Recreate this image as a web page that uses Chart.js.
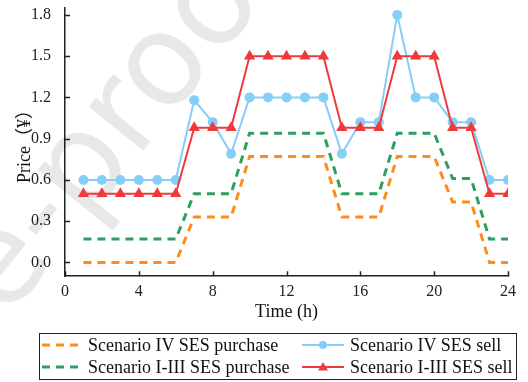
<!DOCTYPE html>
<html>
<head>
<meta charset="utf-8">
<script src="https://cdn.jsdelivr.net/npm/chart.js@4"></script>
<style>
	html, body { margin: 0; padding: 0; background: #fff; }
	#wrap { position: relative; width: 528px; height: 382px; }
	#legend {
		position: absolute; left: 39px; top: 333px; width: 478px; height: 47px;
		border: 1px solid #222; box-sizing: border-box;
		font-family: "Liberation Serif", serif; font-size: 18px; color: #111;
	}
	.item { position: absolute; display: flex; align-items: center; height: 22px; white-space: nowrap; }
	.item svg { margin-right: 6px; }
</style>
</head>
<body>
<div id="wrap">
	<canvas id="chart" width="528" height="382"></canvas>
	<div id="legend"></div>
</div>
<script>
	'use strict';

	// Hours and price series
	const hours = [1, 2, 3, 4, 5, 6, 7, 8, 9, 10, 11, 12, 13, 14, 15, 16, 17, 18, 19, 20, 21, 22, 23, 24];
	const purchaseIV = [0, 0, 0, 0, 0, 0, 0.33, 0.33, 0.33, 0.77, 0.77, 0.77, 0.77, 0.77, 0.33, 0.33, 0.33, 0.77, 0.77, 0.77, 0.44, 0.44, 0, 0];
	const sellIV = [0.6, 0.6, 0.6, 0.6, 0.6, 0.6, 1.18, 1.02, 0.79, 1.2, 1.2, 1.2, 1.2, 1.2, 0.79, 1.02, 1.02, 1.8, 1.2, 1.2, 1.02, 1.02, 0.6, 0.6];
	const purchaseI3 = [0.17, 0.17, 0.17, 0.17, 0.17, 0.17, 0.5, 0.5, 0.5, 0.94, 0.94, 0.94, 0.94, 0.94, 0.5, 0.5, 0.5, 0.94, 0.94, 0.94, 0.61, 0.61, 0.17, 0.17];
	const sellI3 = [0.5, 0.5, 0.5, 0.5, 0.5, 0.5, 0.98, 0.98, 0.98, 1.5, 1.5, 1.5, 1.5, 1.5, 0.98, 0.98, 0.98, 1.5, 1.5, 1.5, 0.98, 0.98, 0.5, 0.5];
	const yTicks = [0, 0.3, 0.6, 0.9, 1.2, 1.5, 1.8];
	const xTicks = [0, 4, 8, 12, 16, 20, 24];

	const labels = ['Scenario IV SES purchase', 'Scenario IV SES sell', 'Scenario I-III SES purchase', 'Scenario I-III SES sell'];
	const colors = { orange: '#ff8c1a', blue: '#86cdf7', green: '#2e9f5c', red: '#ee3a3d' };

	const serif = '"Liberation Serif", "Noto Sans CJK SC", serif';

	function toXY(ys) {
		return hours.map((h, i) => ({ x: h, y: ys[i] }));
	}

	// Faint proof watermark behind the data
	const watermark = {
		id: 'watermark',
		beforeDatasetsDraw(chart) {
			const ctx = chart.ctx;
			ctx.save();
			ctx.translate(6, 320);
			ctx.rotate(-51 * Math.PI / 180);
			ctx.font = '128px "DejaVu Sans", sans-serif';
			ctx.fillStyle = 'rgba(0,0,0,0.09)';
			ctx.fillText('e-proof', 0, 0);
			ctx.restore();
		}
	};

	// Inward tick marks on the left and bottom axes
	const innerTicks = {
		id: 'innerTicks',
		afterDraw(chart) {
			const ctx = chart.ctx;
			const { x, y } = chart.scales;
			const area = chart.chartArea;
			ctx.save();
			ctx.strokeStyle = '#222';
			ctx.lineWidth = 1.5;
			ctx.beginPath();
			yTicks.forEach(v => {
				const py = Math.round(y.getPixelForValue(v)) + 0.5;
				ctx.moveTo(area.left, py);
				ctx.lineTo(area.left + 5, py);
			});
			xTicks.forEach(v => {
				const px = Math.round(x.getPixelForValue(v)) + 0.5;
				ctx.moveTo(px, area.bottom);
				ctx.lineTo(px, area.bottom - 5);
			});
			ctx.stroke();
			ctx.restore();
		}
	};

	new Chart(document.getElementById('chart'), {
		type: 'line',
		data: {
			datasets: [
				{
					label: labels[3],
					data: toXY(sellI3),
					borderColor: colors.red,
					backgroundColor: colors.red,
					borderWidth: 2,
					pointStyle: 'triangle',
					pointRadius: 6.5,
					pointBorderWidth: 0
				},
				{
					label: labels[1],
					data: toXY(sellIV),
					borderColor: colors.blue,
					backgroundColor: colors.blue,
					borderWidth: 2,
					pointStyle: 'circle',
					pointRadius: 5,
					pointBorderWidth: 0
				},
				{
					label: labels[2],
					data: toXY(purchaseI3),
					borderColor: colors.green,
					borderWidth: 3,
					borderDash: [8, 6],
					pointRadius: 0
				},
				{
					label: labels[0],
					data: toXY(purchaseIV),
					borderColor: colors.orange,
					borderWidth: 3,
					borderDash: [8, 6],
					pointRadius: 0
				}
			]
		},
		options: {
			responsive: false,
			animation: false,
			layout: { padding: { top: 8, right: 20, bottom: 59, left: 0 } },
			plugins: {
				legend: { display: false },
				tooltip: { enabled: false }
			},
			scales: {
				x: {
					type: 'linear',
					min: 0,
					max: 24,
					afterBuildTicks: scale => { scale.ticks = xTicks.map(v => ({ value: v })); },
					grid: { display: false },
					border: { display: true, color: '#222', width: 1.5 },
					ticks: { color: '#222', font: { family: serif, size: 16 }, padding: -2, maxRotation: 0 },
					title: { display: true, text: 'Time (h)', color: '#111', font: { family: serif, size: 18 }, padding: { top: 2, bottom: 0 } }
				},
				y: {
					min: -0.1,
					max: 1.85,
					afterBuildTicks: scale => { scale.ticks = yTicks.map(v => ({ value: v })); },
					afterFit: scale => {
						scale.width = 65;
						scale.paddingTop = 0;
						scale.paddingBottom = 0;
					},
					grid: { display: false },
					border: { display: true, color: '#222', width: 1.5 },
					ticks: { color: '#222', font: { family: serif, size: 16 }, padding: 6, callback: v => v.toFixed(1) },
					title: { display: true, text: 'Price（¥）', color: '#111', font: { family: serif, size: 18 }, padding: { top: 14, bottom: 0 } }
				}
			}
		},
		plugins: [watermark, innerTicks]
	});

	// HTML legend, two columns
	function sample(kind, color) {
		if (kind === 'dash') {
			return '<svg width="42" height="12"><line x1="2" y1="6" x2="42" y2="6" stroke="' + color + '" stroke-width="3" stroke-dasharray="8,6"/></svg>';
		}
		const marker = kind === 'circle'
			? '<circle cx="21" cy="6" r="4" fill="' + color + '"/>'
			: '<polygon points="21,1 26,9.5 16,9.5" fill="' + color + '"/>';
		return '<svg width="42" height="12"><line x1="0" y1="6" x2="42" y2="6" stroke="' + color + '" stroke-width="2"/>' + marker + '</svg>';
	}

	const legendItems = [
		{ text: labels[0], kind: 'dash', color: colors.orange, left: 0, top: 0 },
		{ text: labels[1], kind: 'circle', color: colors.blue, left: 262, top: 0 },
		{ text: labels[2], kind: 'dash', color: colors.green, left: 0, top: 22 },
		{ text: labels[3], kind: 'triangle', color: colors.red, left: 262, top: 22 }
	];
	document.getElementById('legend').innerHTML = legendItems.map(item =>
		'<div class="item" style="left:' + item.left + 'px;top:' + item.top + 'px">' + sample(item.kind, item.color) + '<span>' + item.text + '</span></div>'
	).join('');
</script>
</body>
</html>
